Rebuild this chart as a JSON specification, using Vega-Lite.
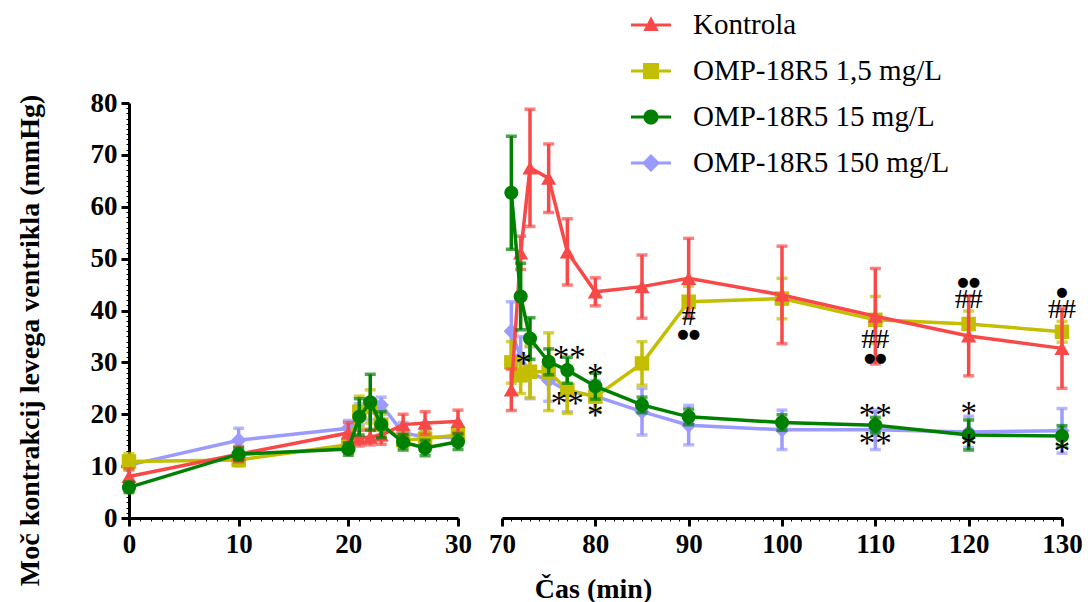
{
  "$schema": "https://vega.github.io/schema/vega-lite/v6.json",
  "background": "white",
  "padding": {"left": 15, "top": 5, "right": 5, "bottom": 5},
  "spacing": 16,
  "config": {
    "view": {"stroke": null},
    "axis": {
      "domainColor": "black",
      "domainWidth": 3,
      "tickColor": "black",
      "labelFont": "Liberation Serif",
      "labelFontWeight": "bold",
      "labelFontSize": 27,
      "labelColor": "black",
      "titleFont": "Liberation Serif",
      "titleFontWeight": "bold",
      "titleFontSize": 28,
      "titleColor": "black",
      "grid": false,
      "labelOverlap": false,
      "labelFlush": false
    },
    "line": {"strokeWidth": 3.5},
    "point": {"filled": true, "opacity": 1}
  },
  "datasets": {
    "mjerenja": [
      {"grupa": "OMP-18R5 150 mg/L", "t": 0, "v": 10.2, "sem": 1.0},
      {"grupa": "OMP-18R5 150 mg/L", "t": 10, "v": 15.0, "sem": 2.3},
      {"grupa": "OMP-18R5 150 mg/L", "t": 20, "v": 17.3, "sem": 1.5},
      {"grupa": "OMP-18R5 150 mg/L", "t": 21, "v": 20.0, "sem": 2.0},
      {"grupa": "OMP-18R5 150 mg/L", "t": 22, "v": 21.0, "sem": 2.0},
      {"grupa": "OMP-18R5 150 mg/L", "t": 23, "v": 21.8, "sem": 1.5},
      {"grupa": "OMP-18R5 150 mg/L", "t": 25, "v": 16.4, "sem": 2.0},
      {"grupa": "OMP-18R5 150 mg/L", "t": 27, "v": 15.6, "sem": 1.5},
      {"grupa": "OMP-18R5 150 mg/L", "t": 30, "v": 15.5, "sem": 1.5},
      {"grupa": "OMP-18R5 150 mg/L", "t": 71, "v": 36.0, "sem": 5.7},
      {"grupa": "OMP-18R5 150 mg/L", "t": 72, "v": 31.0, "sem": 4.0},
      {"grupa": "OMP-18R5 150 mg/L", "t": 73, "v": 28.0, "sem": 5.0},
      {"grupa": "OMP-18R5 150 mg/L", "t": 75, "v": 26.5, "sem": 4.0},
      {"grupa": "OMP-18R5 150 mg/L", "t": 77, "v": 24.5, "sem": 4.0},
      {"grupa": "OMP-18R5 150 mg/L", "t": 80, "v": 23.5, "sem": 3.0},
      {"grupa": "OMP-18R5 150 mg/L", "t": 85, "v": 20.5, "sem": 4.5},
      {"grupa": "OMP-18R5 150 mg/L", "t": 90, "v": 17.9, "sem": 3.8},
      {"grupa": "OMP-18R5 150 mg/L", "t": 100, "v": 17.0, "sem": 3.8},
      {"grupa": "OMP-18R5 150 mg/L", "t": 110, "v": 17.0, "sem": 3.8},
      {"grupa": "OMP-18R5 150 mg/L", "t": 120, "v": 16.6, "sem": 3.0},
      {"grupa": "OMP-18R5 150 mg/L", "t": 130, "v": 16.8, "sem": 4.3},

      {"grupa": "OMP-18R5 1,5 mg/L", "t": 0, "v": 10.9, "sem": 1.5},
      {"grupa": "OMP-18R5 1,5 mg/L", "t": 10, "v": 11.2, "sem": 1.2},
      {"grupa": "OMP-18R5 1,5 mg/L", "t": 20, "v": 14.1, "sem": 1.5},
      {"grupa": "OMP-18R5 1,5 mg/L", "t": 21, "v": 20.5, "sem": 3.0},
      {"grupa": "OMP-18R5 1,5 mg/L", "t": 22, "v": 21.5, "sem": 3.2},
      {"grupa": "OMP-18R5 1,5 mg/L", "t": 23, "v": 18.0, "sem": 2.0},
      {"grupa": "OMP-18R5 1,5 mg/L", "t": 25, "v": 15.0, "sem": 1.5},
      {"grupa": "OMP-18R5 1,5 mg/L", "t": 27, "v": 15.3, "sem": 1.5},
      {"grupa": "OMP-18R5 1,5 mg/L", "t": 30, "v": 16.0, "sem": 1.5},
      {"grupa": "OMP-18R5 1,5 mg/L", "t": 71, "v": 30.0, "sem": 4.0},
      {"grupa": "OMP-18R5 1,5 mg/L", "t": 72, "v": 27.5, "sem": 3.5},
      {"grupa": "OMP-18R5 1,5 mg/L", "t": 73, "v": 28.2, "sem": 5.0},
      {"grupa": "OMP-18R5 1,5 mg/L", "t": 75, "v": 28.2, "sem": 7.5},
      {"grupa": "OMP-18R5 1,5 mg/L", "t": 77, "v": 24.7, "sem": 4.5},
      {"grupa": "OMP-18R5 1,5 mg/L", "t": 80, "v": 23.4, "sem": 2.5},
      {"grupa": "OMP-18R5 1,5 mg/L", "t": 85, "v": 29.8, "sem": 4.2},
      {"grupa": "OMP-18R5 1,5 mg/L", "t": 90, "v": 41.7, "sem": 3.0},
      {"grupa": "OMP-18R5 1,5 mg/L", "t": 100, "v": 42.3, "sem": 3.9},
      {"grupa": "OMP-18R5 1,5 mg/L", "t": 110, "v": 38.2, "sem": 4.5},
      {"grupa": "OMP-18R5 1,5 mg/L", "t": 120, "v": 37.4, "sem": 2.5},
      {"grupa": "OMP-18R5 1,5 mg/L", "t": 130, "v": 35.9, "sem": 2.0},

      {"grupa": "Kontrola", "t": 0, "v": 8.0, "sem": 1.5},
      {"grupa": "Kontrola", "t": 10, "v": 12.3, "sem": 1.5},
      {"grupa": "Kontrola", "t": 20, "v": 16.4, "sem": 2.0},
      {"grupa": "Kontrola", "t": 21, "v": 15.4, "sem": 1.5},
      {"grupa": "Kontrola", "t": 22, "v": 15.6, "sem": 1.5},
      {"grupa": "Kontrola", "t": 23, "v": 16.0, "sem": 1.8},
      {"grupa": "Kontrola", "t": 25, "v": 18.0, "sem": 2.0},
      {"grupa": "Kontrola", "t": 27, "v": 18.3, "sem": 2.2},
      {"grupa": "Kontrola", "t": 30, "v": 18.6, "sem": 2.2},
      {"grupa": "Kontrola", "t": 71, "v": 24.7, "sem": 4.0},
      {"grupa": "Kontrola", "t": 72, "v": 51.1, "sem": 3.2},
      {"grupa": "Kontrola", "t": 73, "v": 67.5, "sem": 11.3},
      {"grupa": "Kontrola", "t": 75, "v": 65.5, "sem": 6.6},
      {"grupa": "Kontrola", "t": 77, "v": 51.3, "sem": 6.4},
      {"grupa": "Kontrola", "t": 80, "v": 43.6, "sem": 2.7},
      {"grupa": "Kontrola", "t": 85, "v": 44.6, "sem": 6.1},
      {"grupa": "Kontrola", "t": 90, "v": 46.2, "sem": 7.7},
      {"grupa": "Kontrola", "t": 100, "v": 43.0, "sem": 9.4},
      {"grupa": "Kontrola", "t": 110, "v": 38.9, "sem": 9.2},
      {"grupa": "Kontrola", "t": 120, "v": 35.1, "sem": 7.7},
      {"grupa": "Kontrola", "t": 130, "v": 32.7, "sem": 7.7},

      {"grupa": "OMP-18R5 15 mg/L", "t": 0, "v": 5.9, "sem": 1.0},
      {"grupa": "OMP-18R5 15 mg/L", "t": 10, "v": 12.3, "sem": 1.2},
      {"grupa": "OMP-18R5 15 mg/L", "t": 20, "v": 13.3, "sem": 1.2},
      {"grupa": "OMP-18R5 15 mg/L", "t": 21, "v": 19.5, "sem": 3.5},
      {"grupa": "OMP-18R5 15 mg/L", "t": 22, "v": 22.3, "sem": 5.4},
      {"grupa": "OMP-18R5 15 mg/L", "t": 23, "v": 18.0, "sem": 2.5},
      {"grupa": "OMP-18R5 15 mg/L", "t": 25, "v": 14.6, "sem": 1.5},
      {"grupa": "OMP-18R5 15 mg/L", "t": 27, "v": 13.5, "sem": 1.5},
      {"grupa": "OMP-18R5 15 mg/L", "t": 30, "v": 14.7, "sem": 1.5},
      {"grupa": "OMP-18R5 15 mg/L", "t": 71, "v": 62.7, "sem": 10.9},
      {"grupa": "OMP-18R5 15 mg/L", "t": 72, "v": 42.7, "sem": 6.4},
      {"grupa": "OMP-18R5 15 mg/L", "t": 73, "v": 34.6, "sem": 4.0},
      {"grupa": "OMP-18R5 15 mg/L", "t": 75, "v": 30.1, "sem": 2.5},
      {"grupa": "OMP-18R5 15 mg/L", "t": 77, "v": 28.5, "sem": 2.5},
      {"grupa": "OMP-18R5 15 mg/L", "t": 80, "v": 25.4, "sem": 2.5},
      {"grupa": "OMP-18R5 15 mg/L", "t": 85, "v": 21.8, "sem": 1.5},
      {"grupa": "OMP-18R5 15 mg/L", "t": 90, "v": 19.5, "sem": 1.5},
      {"grupa": "OMP-18R5 15 mg/L", "t": 100, "v": 18.4, "sem": 1.5},
      {"grupa": "OMP-18R5 15 mg/L", "t": 110, "v": 17.9, "sem": 1.5},
      {"grupa": "OMP-18R5 15 mg/L", "t": 120, "v": 16.0, "sem": 2.9},
      {"grupa": "OMP-18R5 15 mg/L", "t": 130, "v": 15.8, "sem": 2.0}
    ],
    "oznake": [
      {"t": 72.3, "v": 30.5, "znak": "*"},
      {"t": 77.2, "v": 31.7, "znak": "**"},
      {"t": 77, "v": 22.7, "znak": "**"},
      {"t": 80, "v": 28.2, "znak": "*"},
      {"t": 80, "v": 20.5, "znak": "*"},
      {"t": 90, "v": 38.8, "znak": "#"},
      {"t": 110, "v": 34.3, "znak": "##"},
      {"t": 120, "v": 42.0, "znak": "##"},
      {"t": 130, "v": 40.1, "znak": "##"},
      {"t": 110, "v": 20.5, "znak": "**"},
      {"t": 110, "v": 15.0, "znak": "**"},
      {"t": 120, "v": 20.8, "znak": "*"},
      {"t": 120, "v": 14.7, "znak": "*"},
      {"t": 130, "v": 13.4, "znak": "*"}
    ],
    "tocke": [
      {"t": 90, "v": 35.4, "znak": "●●"},
      {"t": 110, "v": 30.9, "znak": "●●"},
      {"t": 120, "v": 45.5, "znak": "●●"},
      {"t": 130, "v": 43.6, "znak": "●"}
    ]
  },
  "resolve": {"legend": {"color": "independent", "shape": "independent"}},
  "hconcat": [
    {
      "width": 329,
      "height": 415,
      "data": {"name": "mjerenja"},
      "transform": [{"filter": "datum.t <= 30"}],
      "encoding": {
        "x": {
          "field": "t",
          "type": "quantitative",
          "scale": {"domain": [0, 30], "nice": false, "zero": false},
          "axis": {
            "values": [0,1,2,3,4,5,6,7,8,9,10,11,12,13,14,15,16,17,18,19,20,21,22,23,24,25,26,27,28,29,30],
            "labelExpr": "datum.value % 10 === 0 ? datum.label : ''",
            "tickSize": {"condition": {"test": "datum.value % 10 === 0", "value": 8}, "value": 3},
            "tickWidth": {"condition": {"test": "datum.value % 10 === 0", "value": 3}, "value": 1},
            "labelPadding": 5,
            "title": null
          }
        },
        "y": {
          "field": "v",
          "type": "quantitative",
          "scale": {"domain": [0, 80], "nice": false},
          "axis": {
            "values": [0,1,2,3,4,5,6,7,8,9,10,11,12,13,14,15,16,17,18,19,20,21,22,23,24,25,26,27,28,29,30,31,32,33,34,35,36,37,38,39,40,41,42,43,44,45,46,47,48,49,50,51,52,53,54,55,56,57,58,59,60,61,62,63,64,65,66,67,68,69,70,71,72,73,74,75,76,77,78,79,80],
            "labelExpr": "datum.value % 10 === 0 ? datum.label : ''",
            "tickSize": {"condition": {"test": "datum.value % 10 === 0", "value": 8}, "value": 3},
            "tickWidth": {"condition": {"test": "datum.value % 10 === 0", "value": 3}, "value": 1},
            "labelPadding": 4,
            "title": "Moč kontrakcij levega ventrikla (mmHg)",
            "titleX": -85,
            "titleY": 237,
            "titleAlign": "center",
            "titleBaseline": "bottom"
          }
        }
      },
      "layer": [
        {
          "transform": [{"filter": "datum.grupa === 'OMP-18R5 150 mg/L'"}],
          "layer": [
            {"mark": {"type": "errorbar", "color": "#9A9AFF", "ticks": {"size": 11, "thickness": 3.5}, "rule": {"strokeWidth": 3.5}}, "encoding": {"yError": {"field": "sem"}}},
            {"mark": {"type": "line", "color": "#9A9AFF"}},
            {"mark": {"type": "point", "shape": "diamond", "size": 240, "color": "#9A9AFF"}}
          ]
        },
        {
          "transform": [{"filter": "datum.grupa === 'OMP-18R5 1,5 mg/L'"}],
          "layer": [
            {"mark": {"type": "errorbar", "color": "#C4BE00", "ticks": {"size": 11, "thickness": 3.5}, "rule": {"strokeWidth": 3.5}}, "encoding": {"yError": {"field": "sem"}}},
            {"mark": {"type": "line", "color": "#C4BE00"}},
            {"mark": {"type": "point", "shape": "square", "size": 210, "color": "#C4BE00"}}
          ]
        },
        {
          "transform": [{"filter": "datum.grupa === 'Kontrola'"}],
          "layer": [
            {"mark": {"type": "errorbar", "color": "#F84848", "ticks": {"size": 11, "thickness": 3.5}, "rule": {"strokeWidth": 3.5}}, "encoding": {"yError": {"field": "sem"}}},
            {"mark": {"type": "line", "color": "#F84848"}},
            {"mark": {"type": "point", "shape": "triangle-up", "size": 230, "color": "#F84848"}}
          ]
        },
        {
          "transform": [{"filter": "datum.grupa === 'OMP-18R5 15 mg/L'"}],
          "layer": [
            {"mark": {"type": "errorbar", "color": "#008000", "ticks": {"size": 11, "thickness": 3.5}, "rule": {"strokeWidth": 3.5}}, "encoding": {"yError": {"field": "sem"}}},
            {"mark": {"type": "line", "color": "#008000"}},
            {"mark": {"type": "point", "shape": "circle", "size": 200, "color": "#008000"}}
          ]
        }
      ]
    },
    {
      "width": 560,
      "height": 415,
      "data": {"name": "mjerenja"},
      "transform": [{"filter": "datum.t >= 70"}],
      "encoding": {
        "x": {
          "field": "t",
          "type": "quantitative",
          "scale": {"domain": [70, 130], "nice": false, "zero": false},
          "axis": {
            "values": [70,71,72,73,74,75,76,77,78,79,80,81,82,83,84,85,86,87,88,89,90,91,92,93,94,95,96,97,98,99,100,101,102,103,104,105,106,107,108,109,110,111,112,113,114,115,116,117,118,119,120,121,122,123,124,125,126,127,128,129,130],
            "labelExpr": "datum.value % 10 === 0 ? datum.label : ''",
            "tickSize": {"condition": {"test": "datum.value % 10 === 0", "value": 8}, "value": 3},
            "tickWidth": {"condition": {"test": "datum.value % 10 === 0", "value": 3}, "value": 1},
            "labelPadding": 5,
            "title": "Čas (min)",
            "titleX": 91,
            "titleY": 79,
            "titleAlign": "center",
            "titleBaseline": "alphabetic"
          }
        },
        "y": {
          "field": "v",
          "type": "quantitative",
          "scale": {"domain": [0, 80], "nice": false},
          "axis": null
        }
      },
      "layer": [
        {
          "transform": [{"filter": "datum.t < 0"}],
          "mark": {"type": "point"},
          "encoding": {
            "color": {
              "field": "grupa",
              "type": "nominal",
              "scale": {"domain": ["Kontrola", "OMP-18R5 1,5 mg/L", "OMP-18R5 15 mg/L", "OMP-18R5 150 mg/L"], "range": ["#F84848", "#C4BE00", "#008000", "#9A9AFF"]},
              "legend": {"title": null, "orient": "none", "legendX": 129, "legendY": -98, "padding": 0, "labelFont": "Liberation Serif", "labelFontSize": 29, "labelColor": "black", "labelLimit": 0, "symbolSize": 1600, "symbolStrokeWidth": 0, "rowPadding": 11, "labelOffset": 22}
            },
            "shape": {
              "field": "grupa",
              "type": "nominal",
              "scale": {
                "domain": ["Kontrola", "OMP-18R5 1,5 mg/L", "OMP-18R5 15 mg/L", "OMP-18R5 150 mg/L"],
                "range": [
                  "M-1,-0.07L1,-0.07L1,0.07L-1,0.07Z M0,-0.44L0.38,0.3L-0.38,0.3Z",
                  "M-1,-0.07L1,-0.07L1,0.07L-1,0.07Z M-0.4,-0.4L0.4,-0.4L0.4,0.4L-0.4,0.4Z",
                  "M-1,-0.07L1,-0.07L1,0.07L-1,0.07Z M-0.38,0A0.38,0.38 0 1,1 0.38,0A0.38,0.38 0 1,1 -0.38,0Z",
                  "M-1,-0.07L1,-0.07L1,0.07L-1,0.07Z M0,-0.45L0.45,0L0,0.45L-0.45,0Z"
                ]
              },
              "legend": {"title": null, "orient": "none", "legendX": 129, "legendY": -98, "padding": 0, "labelFont": "Liberation Serif", "labelFontSize": 29, "labelColor": "black", "labelLimit": 0, "symbolSize": 1600, "symbolStrokeWidth": 0, "rowPadding": 11, "labelOffset": 22}
            }
          }
        },
        {
          "transform": [{"filter": "datum.grupa === 'OMP-18R5 150 mg/L'"}],
          "layer": [
            {"mark": {"type": "errorbar", "color": "#9A9AFF", "ticks": {"size": 11, "thickness": 3.5}, "rule": {"strokeWidth": 3.5}}, "encoding": {"yError": {"field": "sem"}}},
            {"mark": {"type": "line", "color": "#9A9AFF"}},
            {"mark": {"type": "point", "shape": "diamond", "size": 240, "color": "#9A9AFF"}}
          ]
        },
        {
          "transform": [{"filter": "datum.grupa === 'OMP-18R5 1,5 mg/L'"}],
          "layer": [
            {"mark": {"type": "errorbar", "color": "#C4BE00", "ticks": {"size": 11, "thickness": 3.5}, "rule": {"strokeWidth": 3.5}}, "encoding": {"yError": {"field": "sem"}}},
            {"mark": {"type": "line", "color": "#C4BE00"}},
            {"mark": {"type": "point", "shape": "square", "size": 210, "color": "#C4BE00"}}
          ]
        },
        {
          "transform": [{"filter": "datum.grupa === 'Kontrola'"}],
          "layer": [
            {"mark": {"type": "errorbar", "color": "#F84848", "ticks": {"size": 11, "thickness": 3.5}, "rule": {"strokeWidth": 3.5}}, "encoding": {"yError": {"field": "sem"}}},
            {"mark": {"type": "line", "color": "#F84848"}},
            {"mark": {"type": "point", "shape": "triangle-up", "size": 230, "color": "#F84848"}}
          ]
        },
        {
          "transform": [{"filter": "datum.grupa === 'OMP-18R5 15 mg/L'"}],
          "layer": [
            {"mark": {"type": "errorbar", "color": "#008000", "ticks": {"size": 11, "thickness": 3.5}, "rule": {"strokeWidth": 3.5}}, "encoding": {"yError": {"field": "sem"}}},
            {"mark": {"type": "line", "color": "#008000"}},
            {"mark": {"type": "point", "shape": "circle", "size": 200, "color": "#008000"}}
          ]
        },
        {
          "data": {"name": "oznake"},
          "transform": [{"filter": "indexof(datum.znak, '*') >= 0"}],
          "mark": {"type": "text", "font": "Liberation Serif", "fontSize": 33, "color": "black", "align": "center", "baseline": "middle", "dy": 4},
          "encoding": {"text": {"field": "znak"}}
        },
        {
          "data": {"name": "oznake"},
          "transform": [{"filter": "indexof(datum.znak, '#') >= 0"}],
          "mark": {"type": "text", "font": "Liberation Serif", "fontSize": 28, "color": "black", "align": "center", "baseline": "middle"},
          "encoding": {"text": {"field": "znak"}}
        },
        {
          "data": {"name": "tocke"},
          "mark": {"type": "text", "font": "DejaVu Sans", "fontSize": 13, "color": "black", "align": "center", "baseline": "middle"},
          "encoding": {"text": {"field": "znak"}}
        }
      ]
    }
  ]
}
